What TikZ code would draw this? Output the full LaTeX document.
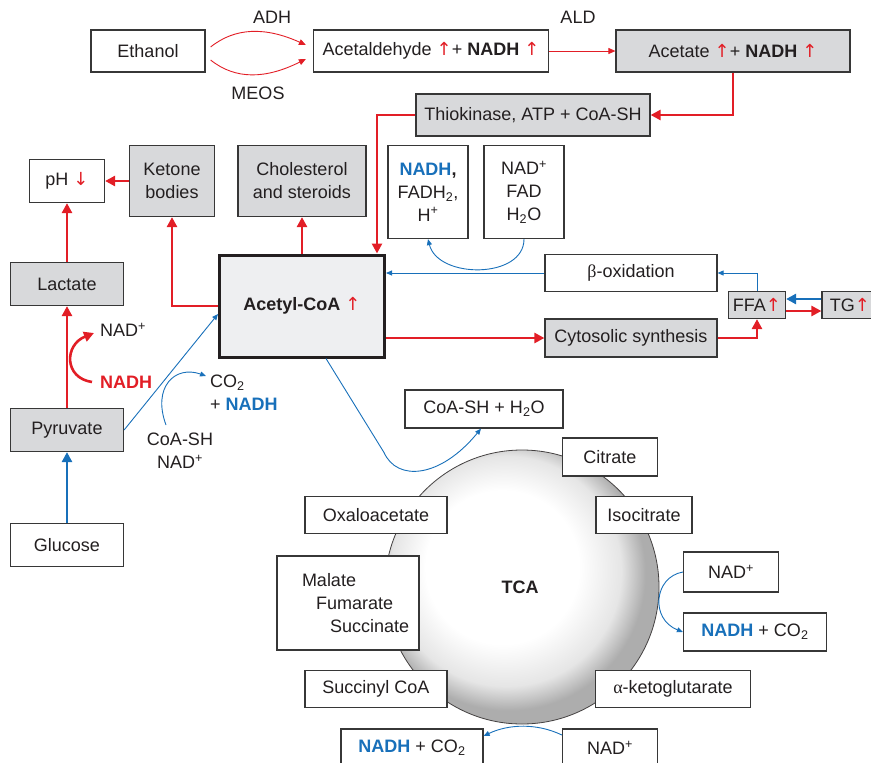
\documentclass[tikz,border=0pt]{standalone}
\usepackage{fontspec}
\setmainfont{Liberation Sans}
\newfontfamily\greekfont{Liberation Serif}
\newfontfamily\arrowfont{DejaVu Sans}
\usepackage{tikz}
\usetikzlibrary{
  arrows.meta,   % Triangle 箭头样式
  calc,          % 坐标计算
  positioning    % 节点相对定位
}

% 颜色
\definecolor{ink}{RGB}{35,31,32}
\definecolor{boxline}{RGB}{55,55,55}
\definecolor{fluxred}{RGB}{226,30,38}
\definecolor{nadblue}{RGB}{24,112,186}
\definecolor{boxgrey}{RGB}{216,217,219}
\definecolor{acoafill}{RGB}{238,239,241}

% TCA 圆的径向渐变 (中心偏左上)
\pgfdeclareradialshading{tcaball}{\pgfpoint{-5bp}{5bp}}{%
  color(0bp)=(white); color(14bp)=(white); color(21bp)=(black!10);
  color(25bp)=(black!32); color(50bp)=(black!32)}

% 文字中的红色箭头与蓝色 NADH
\newcommand{\incr}{{\arrowfont\mdseries\color{fluxred}↑}}
\newcommand{\decr}{{\arrowfont\mdseries\color{fluxred}↓}}
\newcommand{\nadh}{{\bfseries\color{nadblue}NADH}}

\tikzset{
  box/.style={draw=boxline, line width=1.2pt, fill=white, inner sep=1pt,
    align=center, text=ink},
  greybox/.style={box, fill=boxgrey},
  tag/.style={inner sep=0pt, text=ink},
  redflux/.style={draw=fluxred, line width=2.6pt, -{Triangle[length=10pt,width=10pt]}},
  redthin/.style={draw=fluxred, line width=0.9pt, -{Triangle[length=7pt,width=6pt]}},
  blueflux/.style={draw=nadblue, line width=2.6pt, -{Triangle[length=10pt,width=10pt]}},
  bluethin/.style={draw=nadblue, line width=0.9pt, -{Triangle[length=6pt,width=5pt]}}
}

\begin{document}
\begin{tikzpicture}[x=1pt, y=-1pt, font=\fontsize{18}{23}\selectfont]
  \useasboundingbox (0,0) rectangle (871,763);

  % =========== 顶部：乙醇代谢 ===========
  \node[box, minimum width=114, minimum height=42] (eth) at (148,51) {Ethanol};
  \node[box, minimum width=235, minimum height=42] (ald) at (431,51)
    {Acetaldehyde \incr+ {\bfseries NADH} \incr};
  \node[greybox, minimum width=234, minimum height=42] (acet) at (733,51)
    {Acetate \incr+ {\bfseries NADH} \incr};
  \node[greybox, minimum width=234, minimum height=42] (thio) at (533,115)
    {Thiokinase, ATP + CoA-SH};

  \node[tag] (adh)  at (272,17) {ADH};
  \node[tag] (meos) at (258,93) {MEOS};
  \node[tag] (aldh) at (578,17) {ALD};

  % 两条弯曲箭头 (ADH 在上，MEOS 在下)
  \draw[redthin] ([xshift=5,yshift=4]eth.east) .. controls +(25,-20) and +(-40,-18) .. ([xshift=-7,yshift=6]ald.west);
  \draw[redthin] ([xshift=5,yshift=-9]eth.east) .. controls +(25,20) and +(-40,20) .. ([xshift=-7,yshift=-8]ald.west);
  \draw[redthin] (ald) -- (acet);
  \draw[redflux] (acet.south) |- (thio.east);

  % =========== 中部：乙酰辅酶A 及其去向 ===========
  \node[box, fill=acoafill, draw=ink, line width=3pt, minimum width=165, minimum height=102]
    (acoa) at (302,306) {\bfseries Acetyl-CoA \incr};

  \node[box, minimum width=75, minimum height=43] (ph) at (67,181) {pH \decr};
  \node[greybox, minimum width=85, minimum height=71] (ket) at (172,181) {Ketone\\bodies};
  \node[greybox, minimum width=128, minimum height=71] (chol) at (302,181) {Cholesterol\\and steroids};
  \node[box, minimum width=80, minimum height=93] (nadhbox) at (428,192)
    {\nadh{\bfseries,}\\FADH\textsubscript{2},\\H\textsuperscript{+}};
  \node[box, minimum width=80, minimum height=93] (nadbox) at (524,192)
    {NAD\textsuperscript{+}\\FAD\\H\textsubscript{2}O};
  \node[greybox, minimum width=113, minimum height=43] (lac) at (67,284) {Lactate};

  \node[box, minimum width=172, minimum height=37] (beta) at (631,273) {{\greekfont β}-oxidation};
  \node[greybox, minimum width=172, minimum height=38] (cyt) at (631,338) {Cytosolic synthesis};
  \node[greybox, minimum width=57, minimum height=27] (ffa) at (757,305) {FFA\incr};
  \node[greybox, minimum width=56, minimum height=27] (tg) at (850,305) {TG\incr};

  \draw[redflux] (thio.west) -| ([xshift=-9]acoa.north east);
  \draw[redflux] (acoa.north) -- (chol.south);
  \draw[redflux] (acoa.west) -| (ket.south);
  \draw[redflux] (ket.west) -- (ph.east);
  \draw[redflux] (lac.north) -- (ph.south);
  \draw[redflux] (acoa.east |- cyt.west) -- (cyt.west);
  \draw[redflux] (cyt.east) -| (ffa.south);
  \draw[redflux] ([yshift=-6]ffa.east) -- ([yshift=-6]tg.west);
  \draw[blueflux] ([yshift=6]tg.west) -- ([yshift=6]ffa.east);
  \draw[bluethin] (ffa.north) |- (beta.east);
  \draw[bluethin] (beta.west) -- (acoa.east |- beta.west);
  \draw[bluethin] (nadbox.south) .. controls +(0,40) and +(10,40) .. (nadhbox.south);

  % =========== 左侧：糖酵解 ===========
  \node[greybox, minimum width=113, minimum height=43] (pyr) at (67,430) {Pyruvate};
  \node[box, minimum width=113, minimum height=43] (glu) at (67,545) {Glucose};

  \node[tag, anchor=west] (nadplus) at (100,330) {NAD\textsuperscript{+}};
  \node[tag, anchor=west] (nadhred) at (100,382) {\bfseries\color{fluxred}NADH};
  \node[tag, anchor=west, align=left] (co2) at (210,393) {CO\textsubscript{2}\\+ \nadh};
  \node[tag, align=center] (coa) at (180,451) {CoA-SH\\NAD\textsuperscript{+}};

  \draw[blueflux] (glu.north) -- (pyr.south);
  \draw[redflux] (pyr.north) -- (lac.south);
  \draw[redflux] ([xshift=-8]nadhred.west) .. controls +(-28,-4) and +(-30,12) .. ([xshift=-6,yshift=-3]nadplus.west);
  \draw[bluethin] (pyr.east) -- ([yshift=-8]acoa.west);
  \draw[bluethin] ([xshift=-14,yshift=8]coa.north) .. controls +(-14,-38) and +(-31,-11) .. ([xshift=-4,yshift=17]co2.west);

  % =========== 下部：TCA 循环 ===========
  \shade[shading=tcaball] (522,587) circle[radius=137];
  \draw[draw=ink!85, line width=0.8pt] (522,587) circle[radius=137];
  \node[tag] (tca) at (520,587) {\bfseries TCA};

  \node[box, minimum width=158, minimum height=38] (coash) at (484,409) {CoA-SH + H\textsubscript{2}O};
  \node[box, minimum width=95, minimum height=38] (cit) at (610,457) {Citrate};
  \node[box, minimum width=142, minimum height=37] (oxa) at (376,515) {Oxaloacetate};
  \node[box, minimum width=96, minimum height=37] (iso) at (644,515) {Isocitrate};
  \node[box, minimum width=142, minimum height=94, text width=126pt, align=left] (mal) at (348,603)
    {\hspace*{17pt}Malate\\\hspace*{31pt}Fumarate\\\hspace*{45pt}Succinate};
  \node[box, minimum width=95, minimum height=40] (nadr) at (731,572) {NAD\textsuperscript{+}};
  \node[box, minimum width=143, minimum height=38] (nadhr) at (755,632) {\nadh{} + CO\textsubscript{2}};
  \node[box, minimum width=142, minimum height=37] (suc) at (376,689) {Succinyl CoA};
  \node[box, minimum width=155, minimum height=37] (akg) at (673,689) {{\greekfont α}-ketoglutarate};
  \node[box, minimum width=142, minimum height=38] (nadhb) at (412,748) {\nadh{} + CO\textsubscript{2}};
  \node[box, minimum width=95, minimum height=38] (nadb) at (610,748) {NAD\textsuperscript{+}};

  \draw[bluethin] ([xshift=24]acoa.south) -- ++(58,94) .. controls +(13,29) and +(-41,50) .. ([xshift=-3]coash.south);
  \draw[bluethin] (nadr.west) .. controls +(-29,5) and +(-33,-13) .. (nadhr.west);
  \draw[bluethin] ([yshift=13]nadb.west) .. controls +(-25,-12) and +(25,-12) .. ([yshift=12]nadhb.east);

\end{tikzpicture}
\end{document}
